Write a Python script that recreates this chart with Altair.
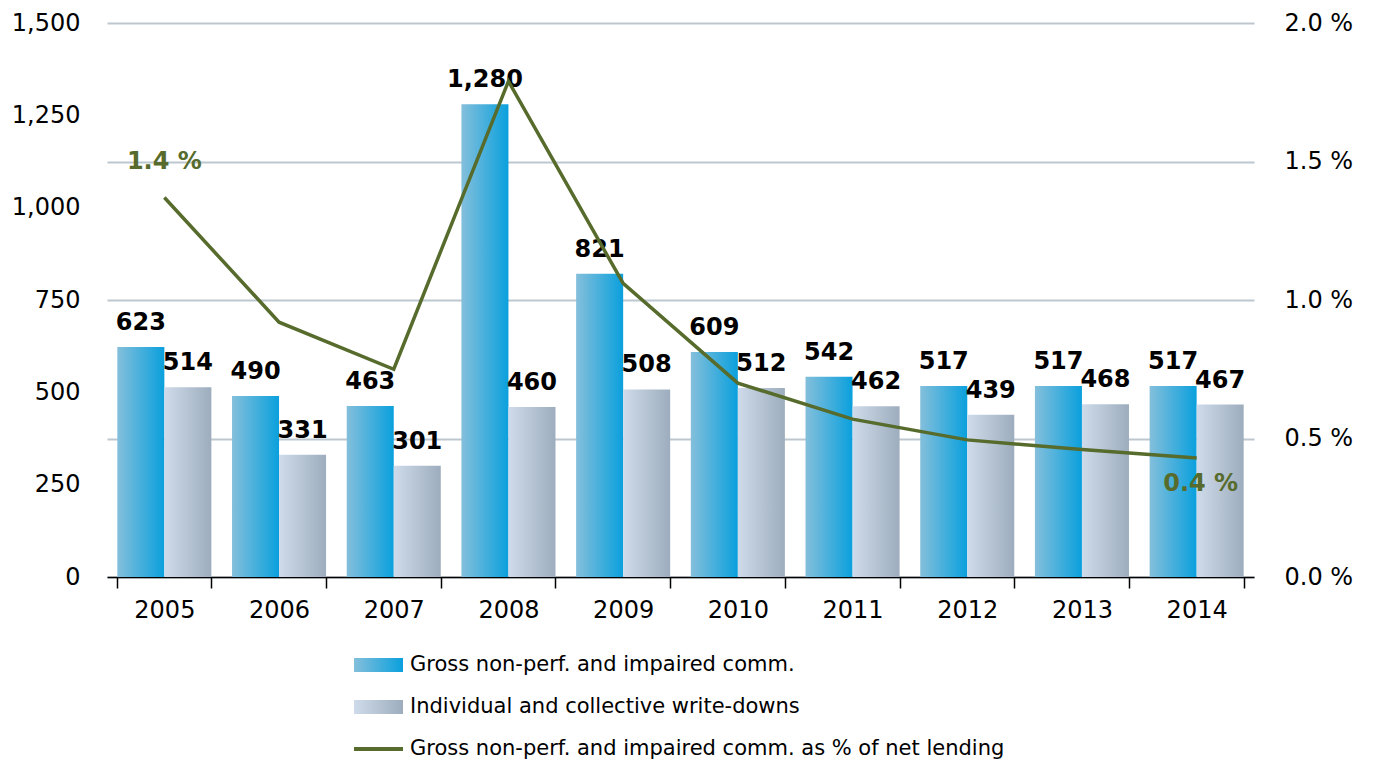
import altair as alt
import pandas as pd

years = ["2005", "2006", "2007", "2008", "2009", "2010", "2011", "2012", "2013", "2014"]
gross = [623, 490, 463, 1280, 821, 609, 542, 517, 517, 517]
writedowns = [514, 331, 301, 460, 508, 512, 462, 439, 468, 467]
pct = [1.37, 0.92, 0.75, 1.79, 1.06, 0.70, 0.57, 0.495, 0.46, 0.43]
pct_labels = ["1.4 %", "", "", "", "", "", "", "", "", "0.4 %"]
series = ["Gross non-perf. and impaired comm.", "Individual and collective write-downs"]
line_name = "Gross non-perf. and impaired comm. as % of net lending"

FONT = "DejaVu Sans"
BLUE = alt.LinearGradient(gradient="linear", x1=0, x2=1, y1=0, y2=0,
                          stops=[alt.GradientStop(color="#84bfdb", offset=0),
                                 alt.GradientStop(color="#0aa0dd", offset=1)])
GREY = alt.LinearGradient(gradient="linear", x1=0, x2=1, y1=0, y2=0,
                          stops=[alt.GradientStop(color="#cfdbea", offset=0),
                                 alt.GradientStop(color="#9dadbd", offset=1)])
OLIVE = "#566b2c"

bars = pd.DataFrame({
    "year": years * 2,
    "series": [series[0]] * len(years) + [series[1]] * len(years),
    "value": gross + writedowns,
})
line_df = pd.DataFrame({"year": years, "pct": pct, "lab": pct_labels})

xscale = alt.Scale(domain=years, paddingInner=0.18, paddingOuter=0.09)
xaxis = alt.Axis(title=None, grid=False, domainColor="black", domainWidth=1.5, tickColor="black",
                 tickWidth=1.5, tickSize=11, tickBand="extent", labelFontSize=24,
                 labelFont=FONT, labelColor="black", labelPadding=10, labelAngle=0)
offscale = alt.Scale(domain=series, paddingInner=0, paddingOuter=0)
yscale = alt.Scale(domain=[0, 1500])
yaxis = alt.Axis(title=None, values=[0, 250, 500, 750, 1000, 1250, 1500], format=",.0f",
                 grid=False, domain=False, ticks=False, labelFontSize=24, labelFont=FONT,
                 labelColor="black", labelPadding=27)

base = alt.Chart(bars)
x_enc = alt.X("year:N", scale=xscale, axis=xaxis, sort=years)
off_enc = alt.XOffset("series:N", scale=offscale, sort=series)
y_enc = alt.Y("value:Q", scale=yscale, axis=yaxis)

bar1 = base.transform_filter(alt.datum.series == series[0]).mark_bar(color=BLUE).encode(
    x=x_enc, xOffset=off_enc, y=y_enc)
bar2 = base.transform_filter(alt.datum.series == series[1]).mark_bar(color=GREY).encode(
    x=x_enc, xOffset=off_enc, y=y_enc)
labels = base.mark_text(font=FONT, fontSize=24, fontWeight="bold", color="black",
                        dy=-12, baseline="bottom").encode(
    x=x_enc, xOffset=off_enc, y=y_enc, text=alt.Text("value:Q", format=",.0f"))

bar_layer = alt.layer(bar1, bar2, labels)

yaxis_r = alt.Axis(title=None, orient="right", values=[0, 0.5, 1.0, 1.5, 2.0],
                   labelExpr="format(datum.value, '.1f') + ' %'", grid=True,
                   gridColor="#bcc7d0", gridWidth=2, domain=False, ticks=False,
                   labelFontSize=24, labelFont=FONT, labelColor="black", labelPadding=30)
yscale_r = alt.Scale(domain=[0, 2.0])
x_enc2 = alt.X("year:N", scale=xscale, axis=xaxis, sort=years)
y_enc2 = alt.Y("pct:Q", scale=yscale_r, axis=yaxis_r)

line = alt.Chart(line_df).mark_line(color=OLIVE, strokeWidth=3.5).encode(x=x_enc2, y=y_enc2)
first_lab = alt.Chart(line_df).transform_filter(alt.datum.year == years[0]).mark_text(
    font=FONT, fontSize=24, fontWeight="bold", color=OLIVE, dy=-36).encode(
    x=x_enc2, y=y_enc2, text="lab:N")
last_lab = alt.Chart(line_df).transform_filter(alt.datum.year == years[-1]).mark_text(
    font=FONT, fontSize=24, fontWeight="bold", color=OLIVE, dy=26, dx=4).encode(
    x=x_enc2, y=y_enc2, text="lab:N")
line_layer = alt.layer(line, first_lab, last_lab)

# custom legend
leg_y = [642, 684, 726]
sw1 = alt.Chart(pd.DataFrame({"s": [series[0]]})).mark_rect(color=BLUE).encode(
    x=alt.value(247), x2=alt.value(296), y=alt.value(leg_y[0] - 7), y2=alt.value(leg_y[0] + 7))
sw2 = alt.Chart(pd.DataFrame({"s": [series[1]]})).mark_rect(color=GREY).encode(
    x=alt.value(247), x2=alt.value(296), y=alt.value(leg_y[1] - 7), y2=alt.value(leg_y[1] + 7))
sw3 = alt.Chart(pd.DataFrame({"s": [line_name]})).mark_rule(color=OLIVE, strokeWidth=4).encode(
    x=alt.value(247), x2=alt.value(296), y=alt.value(leg_y[2]))
leg_texts = []
for name, yy in zip(series + [line_name], leg_y):
    leg_texts.append(alt.Chart(pd.DataFrame({"s": [name]})).mark_text(
        font=FONT, fontSize=21, color="black", align="left", baseline="middle").encode(
        x=alt.value(303), y=alt.value(yy), text="s:N"))
legend_layer = alt.layer(sw1, sw2, sw3, *leg_texts)

chart = alt.layer(bar_layer, line_layer, legend_layer).resolve_scale(y="independent").properties(
    width=1147, height=554,
    background="white",
    autosize=alt.AutoSizeParams(type="none"),
    padding={"left": 99, "top": 15, "right": 110, "bottom": 195},
).configure_view(stroke="transparent", strokeWidth=0)

chart.save("out.html", embed_options={"renderer": "svg", "actions": False})
